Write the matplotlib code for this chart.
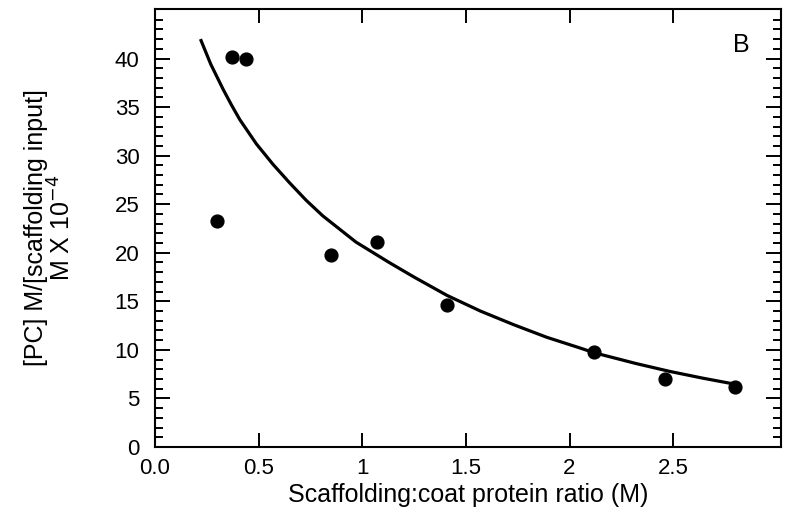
import matplotlib.pyplot as plt

plt.rcParams['font.family'] = ['Liberation Sans', 'DejaVu Sans']

# measured points
ratio = [0.30, 0.37, 0.44, 0.85, 1.07, 1.41, 2.12, 2.46, 2.80]
pc_per_input = [23.3, 40.2, 40.0, 19.8, 21.1, 14.6, 9.8, 7.0, 6.2]

# fitted curve
curve_x = [0.22, 0.27, 0.33, 0.37, 0.41, 0.49, 0.57, 0.65, 0.73, 0.81,
           0.97, 1.13, 1.25, 1.41, 1.57, 1.73, 1.89, 2.05, 2.12, 2.32,
           2.48, 2.64, 2.79]
curve_y = [42.0, 39.4, 36.8, 35.2, 33.7, 31.2, 29.1, 27.2, 25.4, 23.8,
           21.1, 19.0, 17.5, 15.6, 14.0, 12.6, 11.3, 10.2, 9.7, 8.6,
           7.8, 7.1, 6.5]

xticks = [0.0, 0.5, 1.0, 1.5, 2.0, 2.5]
xtick_labels = ['0.0', '0.5', '1', '1.5', '2', '2.5']
yticks = [0, 5, 10, 15, 20, 25, 30, 35, 40]
yminor = list(range(0, 45))

fig = plt.figure(figsize=(7.9, 5.19), dpi=100)
ax = fig.add_axes([0.196, 0.1387, 0.7926, 0.844])

ax.plot(curve_x, curve_y, color='black', lw=2.3, solid_capstyle='butt',
        solid_joinstyle='round')
ax.scatter(ratio, pc_per_input, s=85, color='black', zorder=3)

ax.set_xlim(0, 3.02)
ax.set_ylim(0, 45.1)

ax.set_xticks(xticks)
ax.set_xticklabels(xtick_labels)
ax.set_yticks(yticks)
ax.set_yticks(yminor, minor=True)

ax.tick_params(axis='x', which='major', direction='in', top=True, length=10,
               width=1.4, labelsize=16, pad=8)
ax.tick_params(axis='y', which='major', direction='in', right=True, length=11,
               width=1.4, labelsize=16, pad=11)
ax.tick_params(axis='y', which='minor', direction='in', right=True, length=6,
               width=1.4)

for sp in ax.spines.values():
    sp.set_linewidth(1.5)

ax.set_xlabel('Scaffolding:coat protein ratio (M)', fontsize=18)
ax.xaxis.set_label_coords(0.5, -0.083)
ax.set_ylabel('[PC] M/[scaffolding input]\nM X 10$^{-4}$', fontsize=18,
              linespacing=1.0)
ax.yaxis.set_label_coords(-0.127, 0.5)

ax.text(2.83, 41.4, 'B', fontsize=18, ha='center', va='center')

plt.savefig('out.png', dpi=100)
